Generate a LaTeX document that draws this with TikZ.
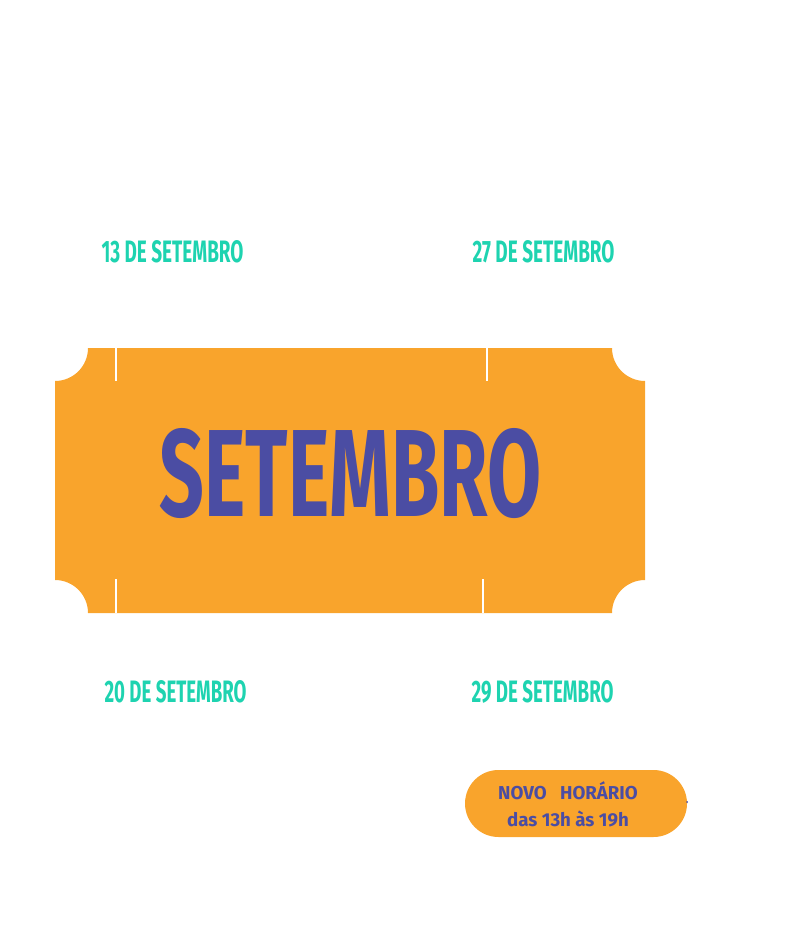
\documentclass[tikz,border=0pt]{standalone}
\usepackage{fontspec}
\setmainfont{Fira Sans}
\usetikzlibrary{positioning}
\definecolor{ticketorange}{HTML}{F9A42C}
\definecolor{datateal}{HTML}{1ED3B0}
\definecolor{monthblue}{HTML}{4B4DA3}
\tikzset{every picture/.style={line width=0.75pt}}
\tikzset{
  datelabel/.style={anchor=west,inner sep=0pt,text=datateal,font=\bfseries},
  slit/.style={draw=white,line width=1.5pt},
}
\newcommand{\datetext}[1]{\resizebox{106.5pt}{16.5pt}{#1}}

\begin{document}
\begin{tikzpicture}[x=0.75pt,y=0.75pt,yscale=-1]
\useasboundingbox (0,0) rectangle (786,944);

%Shape: Ticket
\fill[ticketorange] (88,348) -- (612,348) arc (180:90:33) -- (645,580) arc (270:180:33) -- (88,613) arc (0:-90:33) -- (55,381) arc (90:0:33) -- cycle;
%Slits
\draw[slit] (116,348) -- (116,381);
\draw[slit] (487,348) -- (487,381);
\draw[slit] (116,579) -- (116,613);
\draw[slit] (483,579) -- (483,613);

% Text Node
\node (month) [inner sep=0pt,text=monthblue,font=\bfseries] at (350.5,474) {\resizebox{285.75pt}{66pt}{SETEMBRO}};

% Date nodes
\node (d13) [datelabel] at (101,252) {\datetext{13 DE SETEMBRO}};
\node (d27) [datelabel] at (472,252) {\datetext{27 DE SETEMBRO}};
\node (d20) [datelabel] at (104,692) {\datetext{20 DE SETEMBRO}};
\node (d29) [datelabel] at (471,692) {\datetext{29 DE SETEMBRO}};

%Shape: Pill
\fill[ticketorange] (498.5,770) -- (653.5,770) arc (-90:90:33.5) -- (498.5,837) arc (90:270:33.5) -- cycle;
\fill[monthblue] (687,802) circle (1);
\node (hours) [inner sep=0pt,text=monthblue,align=center,font=\fontsize{14}{20}\selectfont\bfseries] at (568,804) {NOVO\ \ \ HORÁRIO\\das 13h às 19h};
\end{tikzpicture}
\end{document}
